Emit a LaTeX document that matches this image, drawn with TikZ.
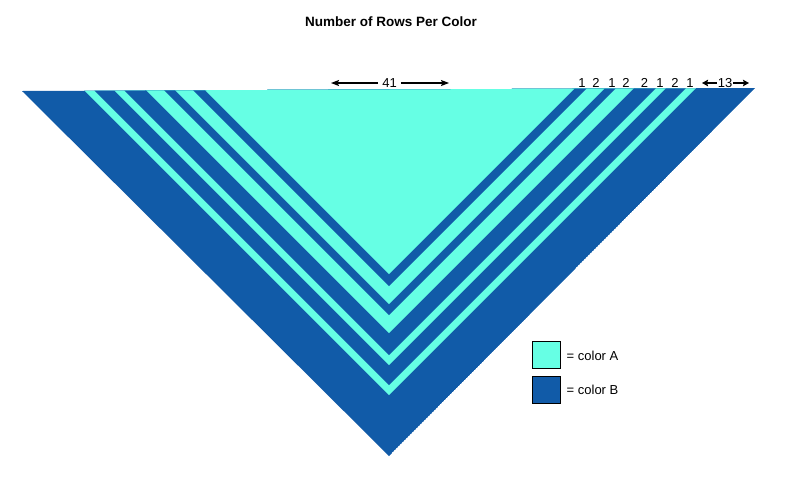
\documentclass[tikz,border=0pt]{standalone}
\usepackage{fontspec}
\setmainfont{Liberation Sans}
\usetikzlibrary{arrows.meta}
\definecolor{colA}{RGB}{102,255,228}
\definecolor{colB}{RGB}{17,91,168}
\begin{document}
\begin{tikzpicture}[x=1pt,y=-1pt,
  lbl/.style={font=\fontsize{13}{15}\selectfont, inner sep=0.5pt, anchor=center},
  dimline/.style={line width=1.1pt, -{Stealth[length=8pt,width=6pt,inset=1.5pt]}},
  shortdim/.style={line width=1.3pt, -{Stealth[length=6pt,width=6.5pt,inset=1pt]}},
  legbox/.style={draw=black, line width=0.6pt, minimum width=28pt, minimum height=27pt, inner sep=0pt},
  legtext/.style={font=\fontsize{13}{15}\selectfont, anchor=west, inner sep=0pt}]
\useasboundingbox (0,0) rectangle (794,496);
% title
\node[font=\bfseries\fontsize{13.5}{16}\selectfont] (title) at (391,22) {Number of Rows Per Color};
% shawl
\begin{scope}
\clip (22,91) -- (755,88) -- (389,456) -- cycle;
\fill[colB] (22,91) -- (755,88) -- (389,456) -- cycle;
\foreach \t/\c in {395/colA,385/colB,365/colA,355/colB,333/colA,315/colB,304/colA,286/colB,274/colA}{
  \fill[\c] (389,\t) -- (-11,\t-400) -- (789,\t-400) -- cycle;
}
\end{scope}
% 41 label
\node[lbl, inner sep=4pt] (n41) at (389.5,83) {41};
\coordinate (l41) at (331,83);
\coordinate (r41) at (449,83);
\draw[dimline] (n41.west) -- (l41);
\draw[dimline] (n41.east) -- (r41);
% right side counts
\node[lbl] (c1) at (582,83) {1};
\node[lbl] (c2) at (596,83) {2};
\node[lbl] (c3) at (612,83) {1};
\node[lbl] (c4) at (626,83) {2};
\node[lbl] (c5) at (644.5,83) {2};
\node[lbl] (c6) at (660,83) {1};
\node[lbl] (c7) at (675,83) {2};
\node[lbl] (c8) at (690,83) {1};
\node[lbl, inner sep=1pt] (n13) at (725,83) {13};
\coordinate (l13) at (702,83);
\coordinate (r13) at (749,83);
\draw[shortdim] (n13.west) -- (l13);
\draw[shortdim] (n13.east) -- (r13);
% legend
\node[legbox, fill=colA] (boxA) at (546,354.5) {};
\node[legbox, fill=colB] (boxB) at (546,389.5) {};
\node[legtext] (txtA) at (566.5,356) {= color A};
\node[legtext] (txtB) at (566.5,390) {= color B};
\end{tikzpicture}
\end{document}
